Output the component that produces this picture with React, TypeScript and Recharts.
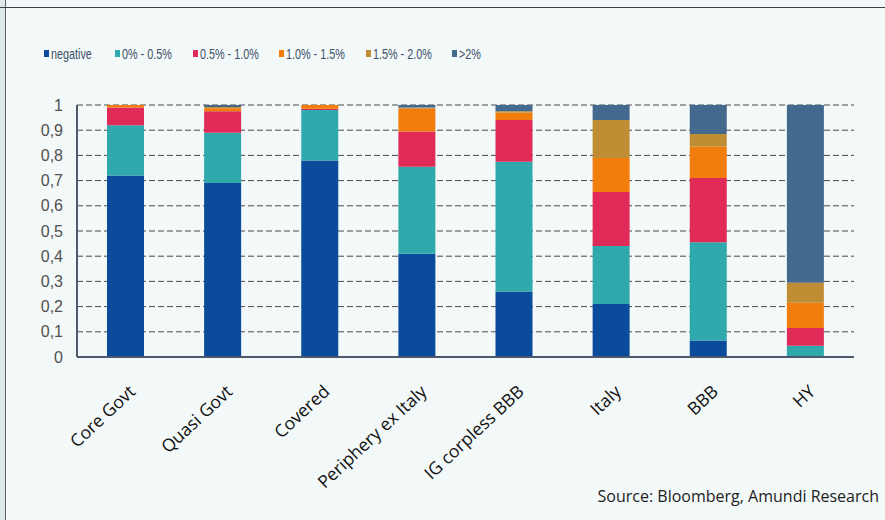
import { BarChart, Bar, XAxis, YAxis, CartesianGrid } from "recharts";

const categories = [
  "Core Govt",
  "Quasi Govt",
  "Covered",
  "Periphery ex Italy",
  "IG corpless BBB",
  "Italy",
  "BBB",
  "HY",
];

const negative = [0.72, 0.69, 0.78, 0.41, 0.26, 0.21, 0.065, 0];
const band0to05 = [0.2, 0.2, 0.2, 0.345, 0.515, 0.23, 0.39, 0.045];
const band05to10 = [0.07, 0.085, 0.005, 0.14, 0.165, 0.215, 0.255, 0.07];
const band10to15 = [0.01, 0.012, 0.015, 0.09, 0.03, 0.135, 0.125, 0.1];
const band15to20 = [0, 0.005, 0, 0.005, 0.005, 0.15, 0.05, 0.08];
const above2 = [0, 0.008, 0, 0.01, 0.025, 0.06, 0.115, 0.705];

const yTicks = [0, 0.1, 0.2, 0.3, 0.4, 0.5, 0.6, 0.7, 0.8, 0.9, 1];

const series = [
  { key: "negative", name: "negative", values: negative, color: "#0a4b9b" },
  { key: "b1", name: "0% - 0.5%", values: band0to05, color: "#2fa9ab" },
  { key: "b2", name: "0.5% - 1.0%", values: band05to10, color: "#e02b59" },
  { key: "b3", name: "1.0% - 1.5%", values: band10to15, color: "#f07d0c" },
  { key: "b4", name: "1.5% - 2.0%", values: band15to20, color: "#bf8e34" },
  { key: "b5", name: ">2%", values: above2, color: "#436a8e" },
];

// legend item left edges (layout only)
const legendLeft = [44, 115, 193, 279, 366, 452];

const data = categories.map((c, i) => {
  const row: Record<string, string | number> = { name: c };
  series.forEach((s) => {
    row[s.key] = s.values[i];
  });
  return row;
});

const edgeTicks = [...categories.map((_, i) => i), categories.length];

const SlantTick = (props: any) => {
  const { x, y, payload } = props;
  const ax = x + 11;
  const ay = y + 36;
  return (
    <text
      x={ax}
      y={ay}
      transform={`rotate(-43, ${ax}, ${ay})`}
      textAnchor="end"
      fontFamily="'Open Sans', sans-serif"
      fontSize={17.5}
      fill="#111"
    >
      {payload.value}
    </text>
  );
};

export default function App() {
  return (
    <div
      style={{
        position: "absolute",
        left: 0,
        top: 0,
        width: 885,
        height: 520,
        background: "#f3f8f9",
        overflow: "hidden",
      }}
    >
      <div style={{ position: "absolute", left: 0, top: 0, width: 5, height: 520, background: "#dde8ea" }} />
      <div style={{ position: "absolute", left: 5, top: 0, width: 1, height: 520, background: "#5a5f63" }} />
      <div style={{ position: "absolute", left: 0, top: 7, width: 885, height: 1, background: "#3c4145" }} />

      {series.map((s, i) => (
        <div
          key={s.key}
          style={{
            position: "absolute",
            left: legendLeft[i],
            top: 44,
            display: "flex",
            alignItems: "center",
            height: 18,
            whiteSpace: "nowrap",
          }}
        >
          <span style={{ width: 5, height: 7, background: s.color, marginRight: 2, display: "inline-block" }} />
          <span
            style={{
              display: "inline-block",
              transform: "scaleX(0.72)",
              transformOrigin: "left center",
              fontFamily: "'Liberation Sans', Arial, sans-serif",
              fontSize: 15,
              color: "#3d5068",
            }}
          >
            {s.name}
          </span>
        </div>
      ))}

      <BarChart
        width={885}
        height={520}
        data={data}
        margin={{ top: 105, right: 31, bottom: 43, left: 17 }}
        barSize={37}
      >
        <CartesianGrid vertical={false} stroke="#4a4a4a" strokeDasharray="6 3" />
        <XAxis
          xAxisId="edges"
          type="number"
          domain={[0, categories.length]}
          ticks={edgeTicks}
          tick={false}
          axisLine={false}
          tickSize={5}
          tickLine={{ stroke: "#4b5b6b", strokeWidth: 1.5 }}
          height={0}
        />
        <XAxis
          dataKey="name"
          interval={0}
          tick={<SlantTick />}
          tickLine={false}
          tickSize={0}
          tickMargin={0}
          axisLine={{ stroke: "#4b5b6b", strokeWidth: 2 }}
          height={120}
        />
        <YAxis
          domain={[0, 1]}
          allowDataOverflow
          ticks={yTicks}
          interval={0}
          tickFormatter={(v: number) => String(v).replace(".", ",")}
          tick={{ fontSize: 16, fill: "#505050", fontFamily: "'Liberation Sans', Arial, sans-serif" }}
          tickLine={false}
          tickSize={0}
          tickMargin={14}
          axisLine={{ stroke: "#4b5b6b", strokeWidth: 2 }}
          width={60}
        />
        {series.map((s) => (
          <Bar
            key={s.key}
            dataKey={s.key}
            name={s.name}
            stackId="a"
            fill={s.color}
            isAnimationActive={false}
          />
        ))}
      </BarChart>

      <div
        style={{
          position: "absolute",
          right: 6,
          top: 485,
          fontFamily: "'Open Sans', sans-serif",
          fontSize: 16,
          color: "#222",
        }}
      >
        Source: Bloomberg, Amundi Research
      </div>
    </div>
  );
}
